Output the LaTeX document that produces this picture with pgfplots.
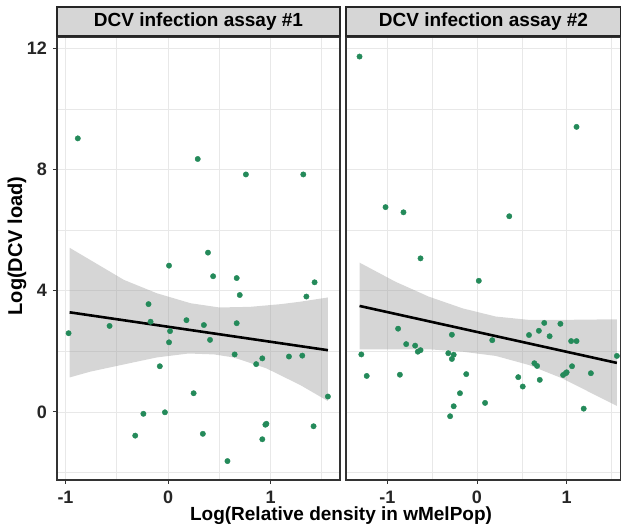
\documentclass[border=0pt]{standalone}
\usepackage{pgfplots}
\pgfplotsset{compat=1.18}
\usepackage{fontspec}
\setmainfont{Liberation Sans}

\definecolor{ptgreen}{RGB}{36,138,90}
\definecolor{stripgray}{RGB}{214,214,214}
\definecolor{gridgray}{RGB}{232,232,232}
\definecolor{bandgray}{RGB}{153,153,153}

% assay 1
\pgfplotstableread{
x y
-0.88 9.03
0.29 8.35
0.76 7.84
1.32 7.84
0.39 5.26
-0.97 2.60
-0.57 2.84
-0.19 3.56
-0.17 2.98
0.01 4.83
0.02 2.67
0.01 2.30
-0.08 1.51
0.18 3.03
0.35 2.87
0.41 2.38
0.44 4.48
0.67 4.42
0.70 3.86
0.67 2.93
0.65 1.90
0.86 1.58
0.92 1.77
1.18 1.83
1.31 1.86
1.35 3.81
1.43 4.28
1.56 0.51
0.25 0.62
-0.24 -0.06
-0.03 -0.01
-0.32 -0.78
0.34 -0.72
0.95 -0.42
0.96 -0.39
0.92 -0.90
1.42 -0.47
0.58 -1.62
}\assayA

% assay 2
\pgfplotstableread{
x y
-1.31 11.73
1.11 9.41
-1.02 6.76
-0.82 6.59
0.36 6.46
-0.63 5.07
0.02 4.33
-0.88 2.75
-0.79 2.24
-0.69 2.19
-0.66 1.99
-0.63 2.04
-1.29 1.90
-1.23 1.19
-0.86 1.23
-0.28 2.55
-0.32 1.94
-0.26 1.89
-0.28 1.75
-0.12 1.25
-0.19 0.62
-0.26 0.19
-0.30 -0.14
0.09 0.30
0.17 2.37
0.46 1.15
0.51 0.84
0.58 2.54
0.69 2.68
0.75 2.94
0.81 2.50
0.93 2.91
0.64 1.61
0.67 1.52
0.70 1.06
0.96 1.22
0.99 1.28
1.00 1.31
1.06 1.51
1.05 2.34
1.11 2.34
1.27 1.28
1.19 0.11
1.56 1.85
}\assayB

\pgfplotsset{
  panel/.style={
    scale only axis, height=443pt, ymin=-2.244, ymax=12.376,
    axis line style={draw=black!80, line width=1.6pt},
    grid=both,
    major grid style={draw=gridgray, line width=0.9pt},
    minor grid style={draw=gridgray, line width=0.6pt},
    ytick={0,4,8,12}, minor ytick={-2,2,6,10},
    yticklabels={0,4,8,12},
    xtick={-1,0,1}, minor xtick={-0.5,0.5,1.5},
    xticklabels={-1,0,1},
    tick align=outside, tick pos=left,
    major tick length=4pt, minor tick length=0pt,
    tick style={draw=black!80, line width=1pt},
    ticklabel style={font=\fontsize{18}{18}\selectfont\bfseries, text=black!85,
      inner sep=0pt},
    xticklabel style={yshift=-7pt, text depth=0pt},
    yticklabel style={xshift=-6pt},
    every axis title shift=0pt,
    title style={at={(0.5,1)}, anchor=south, draw=black!85, line width=1.6pt,
      fill=stripgray, minimum height=29pt, inner sep=0pt, yshift=0pt,
      font=\fontsize{19}{19}\selectfont\bfseries},
  },
  pts/.style={only marks, mark=*, mark size=2.7pt, color=ptgreen,
    mark options={draw=ptgreen, fill=ptgreen}},
  band/.style={draw=none, fill=bandgray, fill opacity=0.4},
  fit/.style={black, line width=2.6pt},
}

\begin{document}
\begin{tikzpicture}
\useasboundingbox (0,0) rectangle (621pt,529pt);

\begin{axis}[panel, width=283pt, at={(57pt,49pt)}, anchor=south west,
  xmin=-1.083, xmax=1.678,
  title={DCV infection assay \#1},
  title style={minimum width=283pt}]
\addplot[pts] table {\assayA};
\addplot[band] coordinates {
  (-0.96,5.42) (-0.76,5.02) (-0.43,4.36) (-0.11,3.92) (0.22,3.59)
  (0.50,3.45) (0.80,3.47) (1.10,3.56) (1.29,3.64) (1.56,3.78)
  (1.56,0.36) (1.29,0.89) (0.96,1.44) (0.64,1.80) (0.45,1.90)
  (0.20,1.93) (-0.11,1.80) (-0.43,1.57) (-0.76,1.33) (-0.96,1.14)
} --cycle;
\addplot[fit] coordinates {(-0.96,3.29) (1.56,2.04)};
\end{axis}

\begin{axis}[panel, width=275pt, at={(346pt,49pt)}, anchor=south west,
  xmin=-1.461, xmax=1.606,
  yticklabels={}, ytick style={draw=none},
  title={DCV infection assay \#2},
  title style={minimum width=275pt}]
\addplot[pts] table {\assayB};
\addplot[band] coordinates {
  (-1.31,4.93) (-0.91,4.30) (-0.54,3.81) (-0.16,3.42) (0.21,3.15)
  (0.58,3.04) (0.95,3.04) (1.56,3.06)
  (1.56,0.20) (0.95,1.11) (0.58,1.55) (0.21,1.85) (-0.16,1.99)
  (-0.54,2.07) (-0.91,2.07) (-1.31,2.07)
} --cycle;
\addplot[fit] coordinates {(-1.31,3.50) (1.56,1.62)};
\end{axis}

\node[rotate=90, inner sep=0pt, font=\fontsize{20}{20}\selectfont\bfseries] at (17pt,283pt) {Log(DCV load)};
\node[inner sep=0pt, font=\fontsize{19}{19}\selectfont\bfseries] at (341pt,13pt) {Log(Relative density in wMelPop)};
\end{tikzpicture}
\end{document}
